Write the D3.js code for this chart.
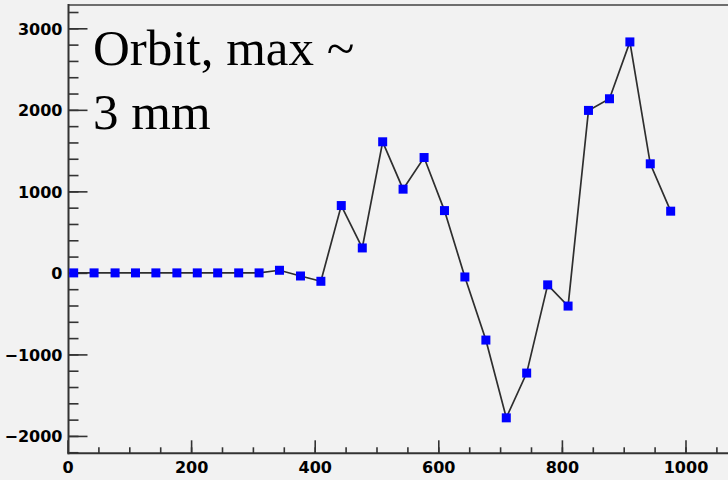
<!DOCTYPE html>
<html>
<head>
<meta charset="utf-8">
<script src="https://cdn.jsdelivr.net/npm/d3@7"></script>
<style>
  html, body { margin: 0; padding: 0; background: #f2f2f2; }
  svg { display: block; }
  .tick text { font-family: "DejaVu Sans", sans-serif; font-weight: bold; font-size: 16px; fill: #000; }
</style>
</head>
<body>
<div id="chart"></div>
<script>
// orbit readings along the ring (position, offset)
const positions = [10, 43, 77, 110, 143, 177, 210, 243, 277, 310,
                   343, 377, 410, 443, 477, 510, 543, 577, 610, 643,
                   677, 710, 743, 777, 810, 843, 877, 910, 943, 976];
const offsets = [0, 0, 0, 0, 0, 0, 0, 0, 0, 0,
                 32, -38, -103, 826, 306, 1608, 1027, 1415, 764, -50,
                 -824, -1778, -1229, -147, -407, 1993, 2136, 2833, 1338, 757];
const xMajorTicks = [0, 200, 400, 600, 800, 1000];
const yMajorTicks = [-2000, -1000, 0, 1000, 2000, 3000];
const noteLines = ["Orbit, max ~", "3 mm"];

const W = 728, H = 480;
const plotLeft = 68.5, plotTop = 5, plotBottom = 453.3;

const svg = d3.select("#chart").append("svg")
  .attr("width", W)
  .attr("height", H);

svg.append("rect").attr("width", W).attr("height", H).attr("fill", "#f2f2f2");

const x = d3.scaleLinear().domain([0, 1100]).range([plotLeft - 1, plotLeft - 1 + 1100 * 0.618]);
const y = d3.scaleLinear().domain([-2213, 3286]).range([plotBottom, plotTop]);

// top frame line
svg.append("line")
  .attr("x1", plotLeft).attr("x2", W)
  .attr("y1", plotTop).attr("y2", plotTop)
  .attr("stroke", "#6e6e6e").attr("stroke-width", 2);

// minor ticks
svg.append("g")
  .attr("transform", `translate(${plotLeft},0)`)
  .call(d3.axisLeft(y).tickValues(d3.range(-2200, 3201, 200)).tickSizeInner(-10).tickSizeOuter(0).tickFormat(""))
  .call(g => g.select(".domain").remove())
  .call(g => g.selectAll("line").attr("stroke", "#333").attr("stroke-width", 1.6));

svg.append("g")
  .attr("transform", `translate(0,${plotBottom})`)
  .call(d3.axisBottom(x).tickValues(d3.range(50, 1051, 50)).tickSizeInner(-6).tickSizeOuter(0).tickFormat(""))
  .call(g => g.select(".domain").remove())
  .call(g => g.selectAll("line").attr("stroke", "#333").attr("stroke-width", 1.6));

// major axes
const yAxis = svg.append("g")
  .attr("transform", `translate(${plotLeft},0)`)
  .call(d3.axisLeft(y).tickValues(yMajorTicks).tickSizeInner(-19).tickSizeOuter(0).tickPadding(6).tickFormat(d3.format("d")));
yAxis.select(".domain").remove();
yAxis.selectAll("line").attr("stroke", "#333").attr("stroke-width", 1.6);
yAxis.selectAll("text").attr("dy", "0.36em");

const xAxis = svg.append("g")
  .attr("transform", `translate(0,${plotBottom})`)
  .call(d3.axisBottom(x).tickValues(xMajorTicks).tickSizeInner(-13).tickSizeOuter(0).tickPadding(8.5).tickFormat(d3.format("d")));
xAxis.select(".domain").remove();
xAxis.selectAll("line").attr("stroke", "#333").attr("stroke-width", 1.6);

// axis lines
svg.append("line")
  .attr("x1", plotLeft).attr("x2", plotLeft)
  .attr("y1", plotTop - 1).attr("y2", plotBottom + 1)
  .attr("stroke", "#333").attr("stroke-width", 2);
svg.append("line")
  .attr("x1", plotLeft - 1).attr("x2", W)
  .attr("y1", plotBottom).attr("y2", plotBottom)
  .attr("stroke", "#333").attr("stroke-width", 2);

// data
const data = positions.map((p, i) => ({ p, v: offsets[i] }));

svg.append("path")
  .datum(data)
  .attr("fill", "none")
  .attr("stroke", "#2e2e2e")
  .attr("stroke-width", 1.7)
  .attr("d", d3.line().x(d => x(d.p)).y(d => y(d.v)));

const s = 9;
svg.append("g")
  .selectAll("rect")
  .data(data)
  .join("rect")
    .attr("x", d => x(d.p) - s / 2)
    .attr("y", d => y(d.v) - s / 2)
    .attr("width", s)
    .attr("height", s)
    .attr("fill", "#0000ff");

// annotation
svg.append("g")
  .selectAll("text")
  .data(noteLines)
  .join("text")
    .attr("x", 93)
    .attr("y", (d, i) => 65 + i * 64)
    .attr("font-family", "'Liberation Serif', 'Times New Roman', serif")
    .attr("font-size", 51)
    .attr("fill", "#000")
    .text(d => d);
</script>
</body>
</html>
